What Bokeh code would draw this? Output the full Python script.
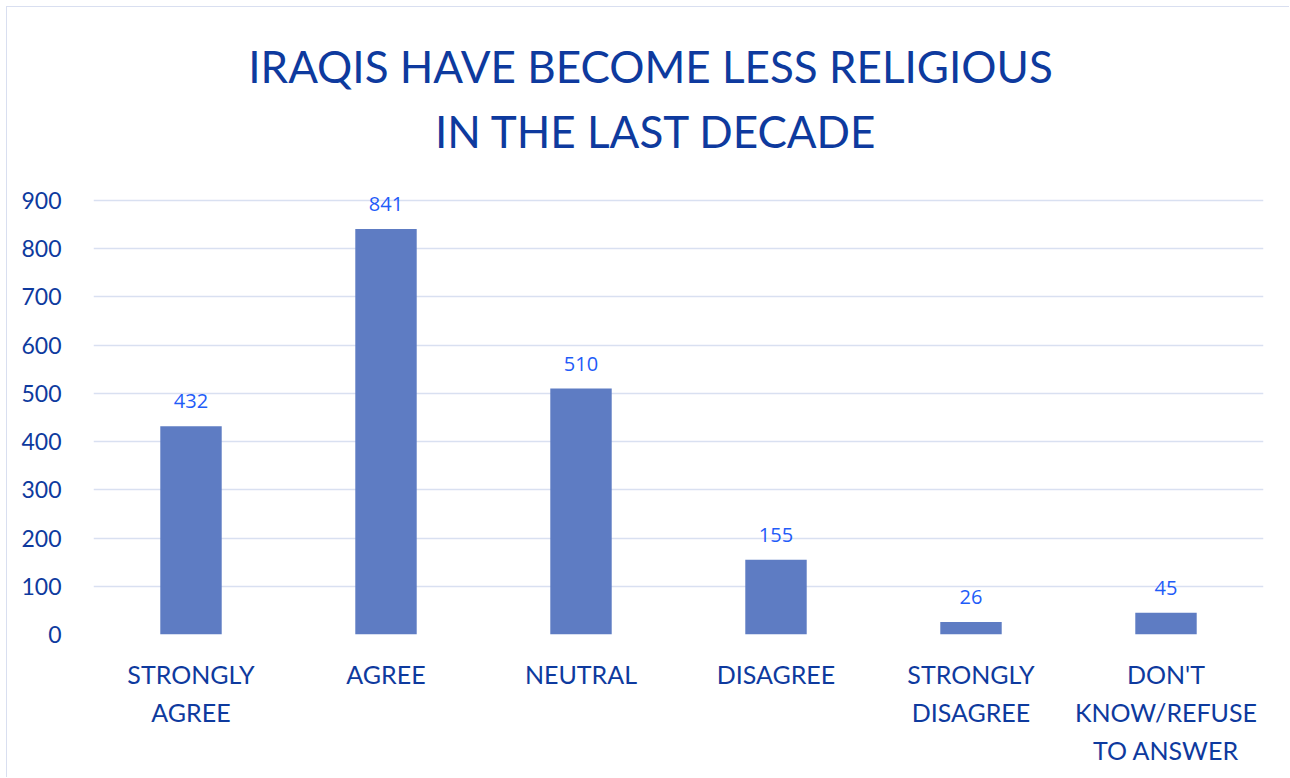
from bokeh.plotting import figure
from bokeh.models import ColumnDataSource, LabelSet, Label, Range1d, FactorRange
from bokeh.core.properties import value
from bokeh.embed import file_html
from bokeh.resources import INLINE

categories = ["STRONGLY\nAGREE", "AGREE", "NEUTRAL", "DISAGREE",
              "STRONGLY\nDISAGREE", "DON'T\nKNOW/REFUSE\nTO ANSWER"]
values = [432, 841, 510, 155, 26, 45]
value_labels = [str(v) for v in values]
y_ticks = [0, 100, 200, 300, 400, 500, 600, 700, 800, 900]
title_lines = ["IRAQIS HAVE BECOME LESS RELIGIOUS", "IN THE LAST DECADE"]

DARK = "#0e3a9e"
LIGHT = "#1f5cf8"
BAR = "#5e7cc3"
GRID = "#d9e0f1"
FONT = "Lato"

src = ColumnDataSource(dict(cat=categories, val=values, lab=value_labels))

p = figure(width=1283, height=771, x_range=FactorRange(*categories, range_padding=0),
           y_range=Range1d(0, 1300), output_backend="svg", toolbar_location=None,
           min_border_left=86, min_border_right=27, min_border_top=0, min_border_bottom=144)
p.styles = {"margin-left": "6px", "margin-top": "6px",
            "border-left": "1px solid #d9dff0", "border-top": "1px solid #d9dff0"}
p.title = None
p.outline_line_color = None
p.background_fill_color = "white"
p.border_fill_color = "white"

p.vbar(x="cat", top="val", width=0.315, source=src, fill_color=BAR, line_color=None)

p.xgrid.grid_line_color = None
p.ygrid.grid_line_color = GRID
p.ygrid.grid_line_width = 1.5
p.yaxis.ticker = y_ticks
p.yaxis.axis_line_color = None
p.yaxis.major_tick_line_color = None
p.yaxis.minor_tick_line_color = None
p.yaxis.major_label_text_font = FONT
p.yaxis.major_label_text_font_size = "23px"
p.yaxis.major_label_text_color = DARK
p.yaxis.major_label_standoff = 26

p.xaxis.axis_line_color = None
p.xaxis.major_tick_line_color = None
p.xaxis.major_label_text_font = FONT
p.xaxis.major_label_text_font_size = "25px"
p.xaxis.major_label_text_color = DARK
p.xaxis.major_label_text_line_height = 1.27
p.xaxis.major_label_standoff = 18

labels = LabelSet(x="cat", y="val", text="lab", source=src, text_align="center",
                  text_baseline="middle", y_offset=25, text_font=value("Open Sans"),
                  text_font_size="20px", text_color=LIGHT)
p.add_layout(labels)

title_x_shift = [-28, -22]
for i, line in enumerate(title_lines):
    p.add_layout(Label(x=3.0, y=900, x_offset=title_x_shift[i], y_offset=134 - 65 * i,
                       text=line, text_align="center", text_baseline="middle",
                       text_font=FONT, text_font_size="44px", text_color=DARK))

open("out.html", "w").write(file_html(p, INLINE))
